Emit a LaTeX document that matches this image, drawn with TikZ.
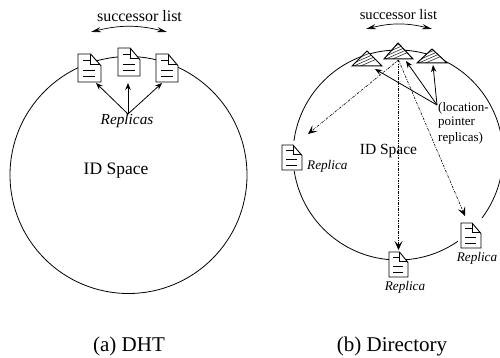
\documentclass[tikz,border=0pt]{standalone}
\usepackage{fontspec}
\setmainfont{Liberation Serif}
\usetikzlibrary{arrows.meta}
\tikzset{
  ring/.style={draw=black,line width=0.8pt,fill=none},
  tip/.style={-{Stealth[length=7pt,width=5.5pt]},line width=0.8pt},
  dtip/.style={-{Stealth[length=9pt,width=8pt,inset=4pt]},line width=0.6pt,dash pattern=on 2.5pt off 1.2pt on 0.8pt off 1.2pt},
  lbl/.style={inner sep=0pt,font=\fontsize{16}{18}\selectfont},
  slbl/.style={inner sep=0pt,font=\fontsize{14.6}{17}\selectfont},
  note/.style={inner sep=0pt,font=\fontsize{13}{15}\selectfont},
  rep/.style={inner sep=0pt,font=\itshape\fontsize{13.2}{15}\selectfont},
  captxt/.style={inner sep=0pt,font=\fontsize{21}{24}\selectfont},
  succ/.style={{Stealth[length=10pt,width=5pt]}-{Stealth[length=10pt,width=5pt]},line width=0.7pt},
}
\newcommand{\docicon}[5]{%
  \begin{scope}[shift={(#2,#3)},x=#4pt,y=#5pt]
    \fill[white] (0,0) -- (0.55,0) -- (1,-0.42) -- (1,-1) -- (0,-1) -- cycle;
    \draw[line width=0.9pt,line join=miter] (0,0) -- (0.55,0) -- (1,-0.42) -- (1,-1) -- (0,-1) -- cycle;
    \draw[line width=0.7pt] (0.55,0) -- (0.55,-0.38) -- (0.97,-0.38);
    \draw[line width=0.7pt] (0.22,-0.22) -- (0.55,-0.22);
    \draw[line width=0.7pt] (0.22,-0.58) -- (0.75,-0.58);
    \draw[line width=0.7pt] (0.22,-0.8) -- (0.75,-0.8);
  \end{scope}%
  \coordinate (#1) at (#2+#4/2,#3+#5/2);%
}
\newcommand{\hatchtri}[6]{%
  \fill[white] (#1,#2) -- (#3,#4) -- (#5,#6) -- cycle;
  \begin{scope}
    \clip (#1,#2) -- (#3,#4) -- (#5,#6) -- cycle;
    \foreach \k in {-6,-3,...,36} {
      \draw[line width=0.55pt,black!85] (#5-5,#6-\k) -- ++(50,-22);
    }
  \end{scope}
  \draw[line width=1pt,line join=miter] (#1,#2) -- (#3,#4) -- (#5,#6) -- cycle;
}
\begin{document}
\begin{tikzpicture}[x=1pt,y=-1pt]
\useasboundingbox (0,0) rectangle (500,358);
\begin{scope}
\clip (0,0) rectangle (500,358);
\node[ring,circle,minimum size=237pt,inner sep=0pt] (lc) at (128.5,175) {};
\node[ring,circle,minimum size=210pt,inner sep=0pt] (rc) at (398,155) {};
\end{scope}

% left
\node[lbl] (ls) at (139.5,16) {successor list};
\coordinate (la) at (91,32); \coordinate (lb) at (167,32);
\draw[succ] (la) to[bend left=14] (lb);
\docicon{d1}{78}{54}{23}{28}
\docicon{d2}{118}{48}{22}{28}
\docicon{d3}{156}{54}{22}{28}
\node[rep,font=\itshape\fontsize{15.3}{17}\selectfont] (lr) at (127,121) {Replicas};
\coordinate (lo) at (128,114);
\coordinate (e1) at (96,83); \coordinate (e2) at (128,83); \coordinate (e3) at (162,83);
\draw[tip] (lo) -- (e1);
\draw[tip] (lo) -- (e2);
\draw[tip] (lo) -- (e3);
\node[lbl,font=\fontsize{17.5}{20}\selectfont] (lid) at (116,171) {ID Space};
\node[captxt] (ca) at (129,346) {(a) DHT};

% right
\node[slbl] (rs) at (398.5,15) {successor list};
\coordinate (ra) at (366,29); \coordinate (rb) at (432,29);
\draw[succ] (ra) to[bend left=14] (rb);
\hatchtri{367}{51}{382}{66}{352}{66}
\hatchtri{398}{43}{413}{59}{384}{59}
\hatchtri{432}{49}{447}{63}{417}{63}
\coordinate (tp) at (398.5,60);
\coordinate (po) at (437,105);
\fill[white] (281,141) rectangle (350,171);
\fill[white] (458,218) rectangle (484,252);
\docicon{r1}{282}{145}{20}{25}
\docicon{r2}{389}{252}{19}{25}
\docicon{r3}{461}{223}{20}{25}
\coordinate (t1) at (308,134); \coordinate (t2) at (398.5,250); \coordinate (t3) at (465,216);
\draw[dtip] (tp) -- (t1);
\draw[dtip] (tp) -- (t2);
\draw[dtip] (tp) -- (t3);
\coordinate (p1) at (375,69); \coordinate (p2) at (406,61); \coordinate (p3) at (433,65);
\draw[tip] (po) -- (p1);
\draw[tip] (po) -- (p2);
\draw[tip] (po) -- (p3);
\node[note,anchor=west] (t1l) at (438,108) {(location-};
\node[note,anchor=west] (t2l) at (438,123) {pointer};
\node[note,anchor=west] (t3l) at (438,138) {replicas)};
\node[slbl,font=\fontsize{15.5}{18}\selectfont] (rid) at (388.5,151) {ID Space};
\node[rep,anchor=west] (q1) at (307,166) {Replica};
\node[rep] (q2) at (405,287) {Replica};
\node[rep] (q3) at (477,258) {Replica};
\node[captxt] (cb) at (392,346) {(b) Directory};
\end{tikzpicture}
\end{document}
